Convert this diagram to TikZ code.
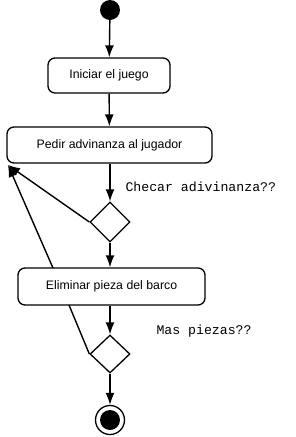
\documentclass[tikz,border=0pt]{standalone}
\usepackage{fontspec}
\setmainfont{Liberation Sans}
\newfontfamily\monofont{Liberation Mono}
\usetikzlibrary{arrows.meta,shapes.geometric}

\begin{document}
\begin{tikzpicture}[
x=1pt, y=-1pt,
activity/.style={draw, line width=1.3pt, rounded corners=7pt, align=center, font=\fontsize{12.3}{14}\selectfont},
choice/.style={draw, diamond, line width=1.3pt, inner sep=0pt, minimum width=40pt, minimum height=40pt},
guard/.style={font=\monofont\fontsize{13.2}{15}\selectfont, anchor=west},
arrow/.style={-{Latex[length=12pt,width=9pt]}, line width=1.4pt},
link/.style={line width=1.4pt}
]
\useasboundingbox (0,0) rectangle (295,437);
\node[circle, fill, minimum size=20pt, inner sep=0pt] (start) at (110,10) {};
\node[activity, minimum width=122pt, minimum height=35pt] (init) at (109,75.5) {Iniciar el juego};
\node[activity, minimum width=205pt, minimum height=36pt] (ask) at (109.5,145) {Pedir advinanza al jugador};
\node[choice] (check) at (110,222) {};
\node[guard] (checklbl) at (122,187) {Checar adivinanza??};
\node[activity, minimum width=187pt, minimum height=37pt] (remove) at (111.5,286.5) {Eliminar pieza del barco};
\node[choice, minimum height=38pt] (more) at (110,354) {};
\node[guard] (morelbl) at (153,331) {Mas piezas??};
\node[circle, draw, line width=1.3pt, minimum size=29pt, inner sep=0pt] (stop) at (110,420) {};
\fill (stop.center) circle (10);
\coordinate (back) at (8,165);
\coordinate (up) at (53,268);
\coordinate (down) at (69,305);
\draw[arrow] (start) -- (init);
\draw[arrow] (init) -- (ask);
\draw[arrow] (ask.south -| check) -- (check.north);
\draw[arrow] (check.south) -- (remove.north -| check);
\draw[arrow] (check.west) -- (back);
\draw[arrow] (up) -- (back);
\draw[arrow] (remove.south -| more) -- (more.north);
\draw[link] (down) -- (more.west);
\draw[arrow] (more.south) -- (stop.north);
\end{tikzpicture}
\end{document}
